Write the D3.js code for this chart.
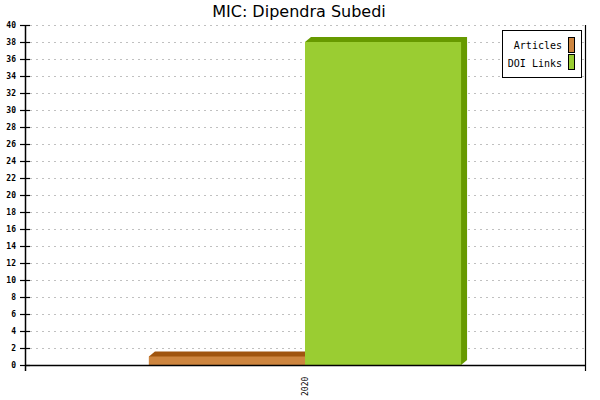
<!DOCTYPE html>
<html>
<head>
<meta charset="utf-8">
<script src="https://cdn.jsdelivr.net/npm/d3@7"></script>
<style>
  body { margin: 0; background: #fff; }
</style>
</head>
<body>
<div id="chart"></div>
<script>
var categories = ["2020"];
var series = ["Articles", "DOI Links"];
var articles = [1];
var doiLinks = [38];
var yTicks = [0, 2, 4, 6, 8, 10, 12, 14, 16, 18, 20, 22, 24, 26, 28, 30, 32, 34, 36, 38, 40];

var colors = {"Articles": "#cd853f", "DOI Links": "#9acd32"};
var darkColors = {"Articles": "#a0550f", "DOI Links": "#679a00"};

var width = 600, height = 400;
var plotLeft = 25, plotRight = 585, plotTop = 25, plotBottom = 365;
var depthX = 6, depthY = 5;

var svg = d3.select("#chart").append("svg")
            .attr("width", width)
            .attr("height", height);

var x = d3.scaleBand()
          .domain(categories)
          .range([plotLeft, plotRight])
          .paddingInner(0)
          .paddingOuter(0.397);

var xSub = d3.scaleBand()
             .domain(series)
             .range([0, x.bandwidth()]);

var y = d3.scaleLinear()
          .domain([0, 40])
          .range([plotBottom, plotTop]);

// grid
svg.append("g").selectAll("line")
   .data(yTicks.filter(function(d){ return d > 0; }))
   .enter().append("line")
   .attr("x1", plotLeft + 5)
   .attr("x2", plotRight)
   .attr("y1", function(d){ return y(d) + 0.5; })
   .attr("y2", function(d){ return y(d) + 0.5; })
   .attr("stroke", "#c0c0c0")
   .attr("stroke-width", 1)
   .attr("stroke-dasharray", "2,4");

// bars (3d look)
var rows = [];
categories.forEach(function(c, i) {
    rows.push({cat: c, name: "Articles", value: articles[i]});
    rows.push({cat: c, name: "DOI Links", value: doiLinks[i]});
});

var bars = svg.append("g").selectAll("g")
   .data(rows)
   .enter().append("g");

bars.append("polygon")
   .attr("points", function(d) {
       var x0 = x(d.cat) + xSub(d.name), x1 = x0 + xSub.bandwidth();
       var yt = y(d.value), yb = y(0);
       return [[x0, yt], [x0 + depthX, yt - depthY], [x1 + depthX, yt - depthY],
               [x1 + depthX, yb - depthY], [x1, yb], [x0, yb]].join(" ");
   })
   .attr("fill", function(d){ return darkColors[d.name]; });

bars.append("rect")
   .attr("x", function(d){ return x(d.cat) + xSub(d.name); })
   .attr("y", function(d){ return y(d.value); })
   .attr("width", xSub.bandwidth())
   .attr("height", function(d){ return y(0) - y(d.value); })
   .attr("fill", function(d){ return colors[d.name]; });

// axes
svg.append("line")
   .attr("x1", plotLeft + 0.5).attr("x2", plotLeft + 0.5)
   .attr("y1", plotTop).attr("y2", plotBottom + 6)
   .attr("stroke", "#000").attr("stroke-width", 1.5);
svg.append("line")
   .attr("x1", plotRight + 0.5).attr("x2", plotRight + 0.5)
   .attr("y1", plotTop).attr("y2", plotBottom + 6)
   .attr("stroke", "#000").attr("stroke-width", 1.2);
svg.append("line")
   .attr("x1", plotLeft).attr("x2", plotRight)
   .attr("y1", plotBottom + 0.5).attr("y2", plotBottom + 0.5)
   .attr("stroke", "#000").attr("stroke-width", 1.5);

var yAxis = svg.append("g");
yAxis.selectAll("line")
   .data(yTicks)
   .enter().append("line")
   .attr("x1", plotLeft - 5)
   .attr("x2", plotLeft + 5)
   .attr("y1", function(d){ return y(d) + 0.5; })
   .attr("y2", function(d){ return y(d) + 0.5; })
   .attr("stroke", "#000")
   .attr("stroke-width", 1.2);
yAxis.selectAll("text")
   .data(yTicks)
   .enter().append("text")
   .text(function(d){ return d; })
   .attr("x", plotLeft - 9)
   .attr("y", function(d){ return y(d) + 3; })
   .attr("text-anchor", "end")
   .attr("font-family", "DejaVu Sans Mono")
   .attr("font-size", 8)
   .attr("font-weight", "bold")
   .attr("fill", "#000");

svg.append("g").selectAll("text")
   .data(categories)
   .enter().append("text")
   .text(function(d){ return d; })
   .attr("transform", function(d){ return "translate(" + (x(d) + x.bandwidth() / 2 + 3) + "," + (plotBottom + 31) + ") rotate(-90)"; })
   .attr("font-family", "DejaVu Sans Mono")
   .attr("font-size", 8)
   .attr("fill", "#000");

// title
svg.append("text")
   .text("MIC: Dipendra Subedi")
   .attr("x", 299)
   .attr("y", 17)
   .attr("text-anchor", "middle")
   .attr("font-family", "DejaVu Sans")
   .attr("font-size", 16)
   .attr("fill", "#000");

// legend
var legend = svg.append("g");
legend.append("rect")
   .attr("x", 502.5).attr("y", 30.5)
   .attr("width", 79).attr("height", 47)
   .attr("fill", "#fff")
   .attr("stroke", "#000")
   .attr("stroke-width", 1);

var items = legend.selectAll("g")
   .data(series)
   .enter().append("g");
items.append("text")
   .text(function(d){ return d; })
   .attr("x", 562)
   .attr("y", function(d, i){ return 49 + i * 18; })
   .attr("text-anchor", "end")
   .attr("font-family", "DejaVu Sans Mono")
   .attr("font-size", 10)
   .attr("fill", "#000");
items.append("rect")
   .attr("x", 568.5)
   .attr("y", function(d, i){ return 37.5 + i * 17; })
   .attr("width", 6)
   .attr("height", 15)
   .attr("fill", function(d){ return colors[d]; })
   .attr("stroke", "#000")
   .attr("stroke-width", 1);
</script>
</body>
</html>
